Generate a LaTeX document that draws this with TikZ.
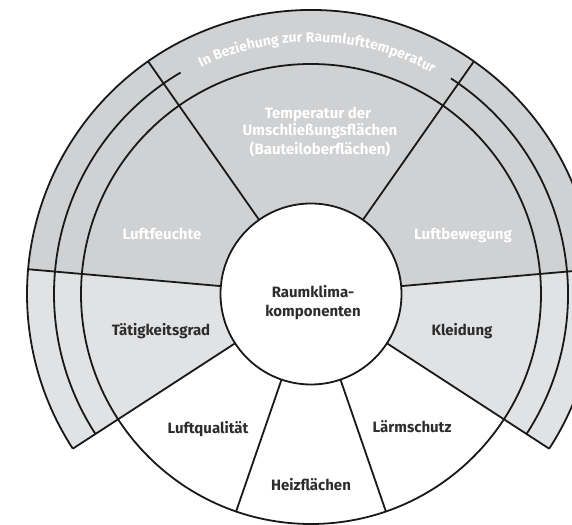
\documentclass[tikz,border=0pt]{standalone}
\usepackage{fontspec}
\setmainfont{Fira Sans}
\usetikzlibrary{decorations.text}
\definecolor{dgray}{RGB}{208,209,211}
\definecolor{lgray}{RGB}{225,226,228}
\definecolor{ink}{RGB}{25,25,25}
\definecolor{txt}{RGB}{45,45,45}
\newcommand\arcfnt{\fontsize{14}{16}\selectfont\bfseries}
\begin{document}
\begin{tikzpicture}[x=1pt,y=1pt,
  lbl/.style={font=\fontsize{15}{18}\selectfont\bfseries, text=txt, inner sep=0pt, anchor=base},
  wlbl/.style={lbl, text=white},
  edge/.style={draw=ink, line width=1.8pt, line join=miter}]
\useasboundingbox (0,0) rectangle (572,524);
\begin{scope}[shift={(311,230)}]
  % fills
  \fill[dgray] (0,0) -- (5:284) arc[start angle=5,end angle=175,radius=284] -- cycle;
  \fill[lgray] (0,0) -- (175:284) arc[start angle=175,end angle=213,radius=284] -- cycle;
  \fill[lgray] (0,0) -- (-33:284) arc[start angle=-33,end angle=5,radius=284] -- cycle;
  \fill[white] (0,0) -- (213:230) arc[start angle=213,end angle=327,radius=230] -- cycle;
  % radial lines
  \foreach \a in {125,55,175,5,213,327}{\draw[edge] (\a:90) -- (\a:284);}
  \foreach \a in {251,289}{\draw[edge] (\a:90) -- (\a:230);}
  % arcs
  \draw[edge] (-33:284) arc[start angle=-33,end angle=213,radius=284];
  \draw[edge] (213:257) arc[start angle=213,end angle=120.5,radius=257];
  \draw[edge] (57:257) arc[start angle=57,end angle=-33,radius=257];
  \draw[edge] (0,0) circle[radius=230];
  \draw[edge, fill=white] (0,0) circle[radius=90.5];
  % arc text
  \path[decorate, decoration={text along path, text color=white,
     text={|\arcfnt|In Beziehung zur Raumlufttemperatur}, text align=center}]
     (138.5:252) arc[start angle=138.5,end angle=38.5,radius=252];
  % labels
  \node[lbl] (rk1) at (2,-3.7) {Raumklima-};
  \node[lbl] (rk2) at (2,-22.7) {komponenten};
  \node[lbl] (taet) at (-150,-42) {Tätigkeitsgrad};
  \node[lbl] (kleid) at (151,-42) {Kleidung};
  \node[lbl] (luftq) at (-103,-139.3) {Luftqualität};
  \node[lbl] (laerm) at (101,-139) {Lärmschutz};
  \node[lbl] (heiz) at (0,-196) {Heizflächen};
  \node[wlbl] (feucht) at (-149,54.5) {Luftfeuchte};
  \node[wlbl] (beweg) at (152,54.5) {Luftbewegung};
  \node[wlbl] (temp1) at (7,175.7) {Temperatur der};
  \node[wlbl] (temp2) at (9,158) {Umschließungsflächen};
  \node[wlbl] (temp3) at (9,139.7) {(Bauteiloberflächen)};
\end{scope}
\end{tikzpicture}
\end{document}
